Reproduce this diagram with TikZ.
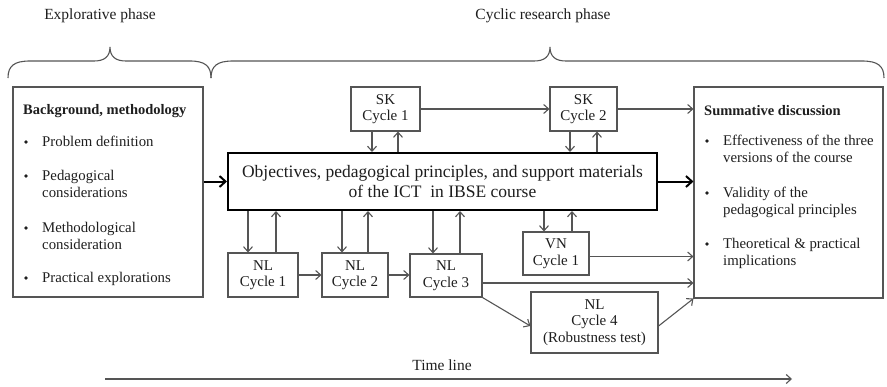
\documentclass[tikz,border=0pt]{standalone}
\usepackage{fontspec}
\setmainfont{Liberation Serif}
\usetikzlibrary{arrows.meta}
\definecolor{ln}{RGB}{85,85,85}
\definecolor{tx}{RGB}{30,30,30}
\tikzset{
  box/.style={draw=ln, line width=1.1pt, inner sep=0pt, align=center, text=tx,
              font=\fontsize{15}{16.5}\selectfont},
  mainbox/.style={draw=black, line width=2pt, inner sep=0pt, align=center, text=tx,
              font=\fontsize{17.5}{20}\selectfont},
  lbl/.style={inner sep=0pt, text=tx, font=\fontsize{15.5}{17}\selectfont},
  % item texts are placed by the baseline of their last line
  itm/.style={inner sep=0pt, text=tx, align=left, anchor=base west,
              font=\fontsize{14.8}{17.5}\selectfont},
  hd/.style={inner sep=0pt, text=tx, anchor=base west, font=\fontsize{14.5}{17}\selectfont\bfseries},
  dot/.style={circle, fill=tx, inner sep=0pt, minimum size=3.6pt},
  arr/.style={draw=ln, line width=1.1pt, -{Straight Barb[length=5pt,width=9pt,line width=1.1pt]}},
  thickarr/.style={draw=black, line width=2pt, -{Straight Barb[length=6pt,width=11pt,line width=2pt]}},
  brace/.style={draw=ln, line width=1.1pt}
}
\begin{document}
\begin{tikzpicture}[x=1pt,y=-1pt]
\useasboundingbox (0,0) rectangle (887,386);

% phase labels and braces
\node[lbl] (explab) at (100,16) {Explorative phase};
\node[lbl] (cyclab) at (543,16) {Cyclic research phase};
\draw[brace] (8,78) .. controls (8,66) and (14,61) .. (30,61) -- (94,61)
  .. controls (104,61) and (110,57) .. (110,47)
  .. controls (110,57) and (116,61) .. (126,61) -- (190,61)
  .. controls (205,61) and (211,66) .. (211,78);
\draw[brace] (211,78) .. controls (211,66) and (217,61) .. (233,61) -- (534,61)
  .. controls (544,61) and (550,57) .. (550,47)
  .. controls (550,57) and (556,61) .. (566,61) -- (862,61)
  .. controls (878,61) and (884,66) .. (884,78);

% left box: background
\node[box, minimum width=190pt, minimum height=210pt] (bg) at (108,192) {};
\node[hd] (bgh) at (23,114) {Background, methodology};
\node[dot] (b1) at (26,142) {};
\node[itm] (i1) at (42,146) {Problem definition};
\node[dot] (b2) at (26,176) {};
\node[itm] (i2) at (42,197.5) {Pedagogical\\considerations};
\node[dot] (b3) at (26,228) {};
\node[itm] (i3) at (42,249.5) {Methodological\\consideration};
\node[dot] (b4) at (26,278) {};
\node[itm] (i4) at (42,282) {Practical explorations};

% right box: summative discussion
\node[box, minimum width=189pt, minimum height=211pt] (sum) at (788.5,192.5) {};
\node[hd] (sumh) at (704,115) {Summative discussion};
\node[dot] (s1) at (707,141) {};
\node[itm] (j1) at (723,162.5) {Effectiveness of the three\\versions of the course};
\node[dot] (s2) at (707,193) {};
\node[itm] (j2) at (723,214.5) {Validity of the\\pedagogical principles};
\node[dot] (s3) at (707,244) {};
\node[itm] (j3) at (723,265.5) {Theoretical \& practical\\implications};

% central box
\node[mainbox, minimum width=429pt, minimum height=57pt] (main) at (442.5,181.5)
  {Objectives, pedagogical principles, and support materials\\of the ICT\ \ in IBSE course};

% cycle boxes
\node[box, minimum width=69pt, minimum height=44pt] (sk1) at (385.5,109) {SK\\Cycle 1};
\node[box, minimum width=67pt, minimum height=44pt] (sk2) at (583.5,109) {SK\\Cycle 2};
\node[box, minimum width=70pt, minimum height=44pt] (nl1) at (263,275) {NL\\Cycle 1};
\node[box, minimum width=66pt, minimum height=44pt] (nl2) at (355,275) {NL\\Cycle 2};
\node[box, minimum width=72pt, minimum height=43pt] (nl3) at (446,275.5) {NL\\Cycle 3};
\node[box, minimum width=66pt, minimum height=43pt] (vn) at (556,253.5) {VN\\Cycle 1};
\node[box, minimum width=127pt, minimum height=61pt] (nl4) at (594.5,322.5) {NL\\Cycle 4\\(Robustness test)};

% main flow
\draw[thickarr] (main.west -| bg.east) -- (main.west);
\draw[thickarr] (main.east) -- (main.east -| sum.west);

% SK cycles
\draw[arr] (sk1.east) -- (sk2.west);
\draw[arr] (sk2.east) -- (sk2.east -| sum.west);
\draw[arr] ([xshift=-13.5pt]sk1.south) -- ([xshift=-13.5pt]sk1.south |- main.north);
\draw[arr] ([xshift=12.5pt]sk1.south |- main.north) -- ([xshift=12.5pt]sk1.south);
\draw[arr] ([xshift=-13.5pt]sk2.south) -- ([xshift=-13.5pt]sk2.south |- main.north);
\draw[arr] ([xshift=13.5pt]sk2.south |- main.north) -- ([xshift=13.5pt]sk2.south);

% NL and VN cycles
\draw[arr] ([xshift=-15pt]nl1.north |- main.south) -- ([xshift=-15pt]nl1.north);
\draw[arr] ([xshift=13pt]nl1.north) -- ([xshift=13pt]nl1.north |- main.south);
\draw[arr] ([xshift=-13pt]nl2.north |- main.south) -- ([xshift=-13pt]nl2.north);
\draw[arr] ([xshift=13pt]nl2.north) -- ([xshift=13pt]nl2.north |- main.south);
\draw[arr] ([xshift=-13pt]nl3.north |- main.south) -- ([xshift=-13pt]nl3.north);
\draw[arr] ([xshift=14pt]nl3.north) -- ([xshift=14pt]nl3.north |- main.south);
\draw[arr] ([xshift=-12pt]vn.north |- main.south) -- ([xshift=-12pt]vn.north);
\draw[arr] ([xshift=16pt]vn.north) -- ([xshift=16pt]vn.north |- main.south);

\draw[arr] (nl1.east) -- (nl2.west);
\draw[arr] (nl2.east) -- (nl2.east -| nl3.west);
\draw[arr] ([yshift=-3pt]vn.east) -- ([yshift=-3pt]vn.east -| sum.west);
\draw[arr] ([yshift=-7.5pt]nl3.east) -- ([yshift=-7.5pt]nl3.east -| sum.west);
\draw[arr] (nl3.south east) -- ([yshift=-3.5pt]nl4.west);
\draw[arr] ([yshift=-3.5pt]nl4.east) -- (sum.south west);

% time line
\node[lbl] (tl) at (442,365) {Time line};
\coordinate (t0) at (105,379);
\coordinate (t1) at (792,379);
\draw[arr] (t0) -- (t1);
\end{tikzpicture}
\end{document}
